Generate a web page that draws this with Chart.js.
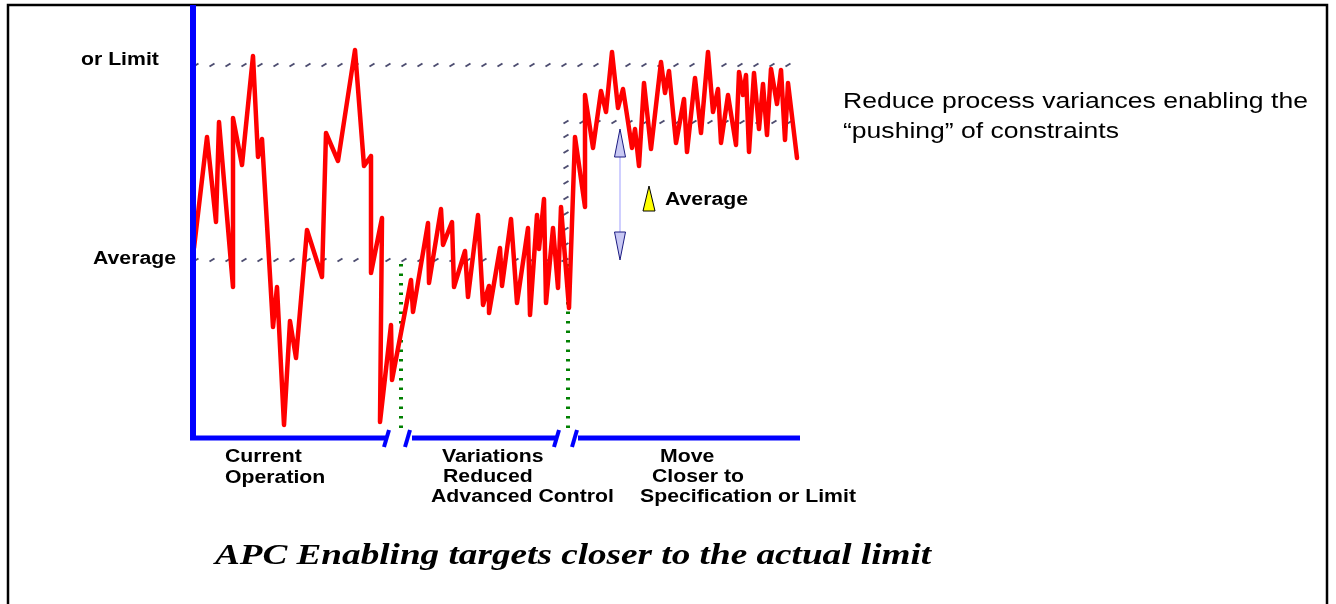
<!DOCTYPE html>
<html>
<head>
<meta charset="utf-8">
<script src="https://cdn.jsdelivr.net/npm/chart.js@4"></script>
<style>
  body { margin: 0; background: #fff; }
  canvas { display: block; }
</style>
</head>
<body>
<canvas id="container" width="1336" height="604"></canvas>
<script>
// process value over time, three phases (x = time step, y = level above the axis)
var currentX = [4, 17, 26, 29, 43, 43, 52, 63, 68, 72, 83, 87, 94, 100, 106, 117, 132, 136, 148, 165, 174, 181, 181, 192, 190];
var currentY = [190, 301, 216, 316, 151, 320, 273, 382, 281, 299, 111, 151, 13, 117, 80, 208, 161, 305, 277, 388, 272, 282, 165, 220, 16];

var reducedX = [201, 202, 221, 223, 238, 239, 251, 253, 262, 264, 275, 278, 288, 293, 299, 299, 310, 312, 321, 323, 327, 338, 340, 347, 349, 354, 356, 363, 368, 371, 379];
var reducedY = [113, 58, 158, 126, 215, 155, 229, 193, 216, 151, 187, 141, 223, 133, 152, 125, 190, 152, 219, 192, 135, 210, 123, 223, 189, 239, 135, 210, 150, 231, 130];

var closerX = [385, 395, 395, 403, 411, 416, 422, 428, 433, 442, 445, 449, 454, 461, 471, 475, 479, 486, 494, 497, 505, 511, 518, 523, 528, 531, 538, 546, 549, 553, 556, 559, 564, 569, 573, 577, 581, 587, 591, 595, 598, 607];
var closerY = [301, 231, 343, 290, 347, 326, 386, 330, 349, 290, 309, 272, 355, 289, 376, 345, 367, 295, 339, 286, 360, 305, 386, 326, 349, 295, 343, 293, 366, 343, 363, 286, 365, 309, 354, 303, 369, 334, 368, 298, 355, 280];

// reference levels
var limitLevel = 373;
var averageLevel = 178;
var newAverageLevel = 316;
var phaseBreaks = [211, 378];

var xs = currentX.concat(reducedX, closerX);
var ys = currentY.concat(reducedY, closerY);
var points = xs.map(function (v, i) { return { x: v, y: ys[i] }; });

var SX = 1.18; // the original picture is stretched sideways

function txt(ctx, s, x, y, font) {
  ctx.save();
  ctx.font = font;
  ctx.textBaseline = 'middle';
  ctx.textAlign = 'left';
  ctx.fillStyle = '#000';
  ctx.translate(x, y);
  ctx.scale(SX, 1);
  ctx.fillText(s, 0, 0);
  ctx.restore();
}

function hatchMark(ctx, px, py) {
  ctx.beginPath();
  ctx.moveTo(px - 2.5, py + 1.5);
  ctx.lineTo(px + 2.5, py - 1.5);
  ctx.stroke();
}

var overlay = {
  id: 'overlay',
  beforeDatasetsDraw: function (chart) {
    var ctx = chart.ctx, x = chart.scales.x, y = chart.scales.y;
    ctx.save();
    // frame
    ctx.strokeStyle = '#000';
    ctx.lineWidth = 2.5;
    ctx.strokeRect(8, 5, 1319, 640);

    // hatched limit / average lines
    ctx.strokeStyle = '#4d4d70';
    ctx.lineWidth = 2;
    var p;
    var yl = y.getPixelForValue(limitLevel);
    for (p = x.getPixelForValue(6); p <= x.getPixelForValue(610); p += 16) hatchMark(ctx, p, yl);
    var ya = y.getPixelForValue(averageLevel);
    var xv = x.getPixelForValue(376);
    for (p = x.getPixelForValue(6); p <= xv; p += 16) hatchMark(ctx, p, ya);
    var yn = y.getPixelForValue(newAverageLevel);
    for (p = ya; p >= yn; p -= 15.5) hatchMark(ctx, xv, p);
    for (p = xv; p <= x.getPixelForValue(610); p += 16) hatchMark(ctx, p, yn);

    // green dotted phase separators
    ctx.strokeStyle = '#008000';
    ctx.lineWidth = 4;
    ctx.setLineDash([2.5, 7]);
    phaseBreaks.forEach(function (v) {
      var px = x.getPixelForValue(v);
      ctx.beginPath();
      ctx.moveTo(px, y.getPixelForValue(averageLevel - 4));
      ctx.lineTo(px, y.getPixelForValue(0) - 3);
      ctx.stroke();
    });
    ctx.restore();
  },
  afterDatasetsDraw: function (chart) {
    var ctx = chart.ctx, x = chart.scales.x, y = chart.scales.y;
    var a = chart.chartArea;
    ctx.save();
    // blue axes
    ctx.strokeStyle = '#0000ff';
    ctx.lineWidth = 6;
    ctx.lineCap = 'butt';
    ctx.beginPath();
    ctx.moveTo(a.left + 3, a.top);
    ctx.lineTo(a.left + 3, a.bottom + 2);
    ctx.stroke();
    ctx.lineWidth = 5;
    var segs = [[0, 197], [222, 368], [388, 610]];
    segs.forEach(function (s) {
      ctx.beginPath();
      ctx.moveTo(x.getPixelForValue(s[0]), a.bottom);
      ctx.lineTo(x.getPixelForValue(s[1]), a.bottom);
      ctx.stroke();
    });
    ctx.lineWidth = 4;
    [196, 217, 366, 384].forEach(function (v) {
      var px = x.getPixelForValue(v);
      ctx.beginPath();
      ctx.moveTo(px - 2, a.bottom + 9);
      ctx.lineTo(px + 3, a.bottom - 8);
      ctx.stroke();
    });

    // double arrow showing the reduced variance
    var ax = x.getPixelForValue(430);
    var t1 = y.getPixelForValue(309), t2 = y.getPixelForValue(281);
    var b1 = y.getPixelForValue(206), b2 = y.getPixelForValue(178);
    ctx.strokeStyle = '#9f9fff';
    ctx.lineWidth = 1;
    ctx.beginPath();
    ctx.moveTo(ax, t2);
    ctx.lineTo(ax, b1);
    ctx.stroke();
    ctx.fillStyle = '#c8c8f4';
    ctx.strokeStyle = '#1a1a80';
    ctx.beginPath();
    ctx.moveTo(ax, t1); ctx.lineTo(ax + 5.5, t2); ctx.lineTo(ax - 5.5, t2); ctx.closePath();
    ctx.fill(); ctx.stroke();
    ctx.beginPath();
    ctx.moveTo(ax, b2); ctx.lineTo(ax + 5.5, b1); ctx.lineTo(ax - 5.5, b1); ctx.closePath();
    ctx.fill(); ctx.stroke();

    // yellow marker
    var yx = x.getPixelForValue(459);
    ctx.fillStyle = '#ffff00';
    ctx.strokeStyle = '#000';
    ctx.beginPath();
    ctx.moveTo(yx, y.getPixelForValue(252));
    ctx.lineTo(yx + 6, y.getPixelForValue(227));
    ctx.lineTo(yx - 6, y.getPixelForValue(227));
    ctx.closePath();
    ctx.fill(); ctx.stroke();
    ctx.restore();

    var B = 'bold 18px "Liberation Sans", Arial, sans-serif';
    var R = '22.5px "Liberation Sans", Arial, sans-serif';
    txt(ctx, 'or Limit', 81, 60, B);
    txt(ctx, 'Average', 93, 259, B);
    txt(ctx, 'Average', 665, 200, B);
    txt(ctx, 'Reduce process variances enabling the', 843, 102, R);
    txt(ctx, '\u201cpushing\u201d of constraints', 843, 132, R);
    txt(ctx, 'Current', 225, 457, B);
    txt(ctx, 'Operation', 225, 478, B);
    txt(ctx, 'Variations', 442, 457, B);
    txt(ctx, 'Reduced', 443, 477, B);
    txt(ctx, 'Advanced Control', 431, 497, B);
    txt(ctx, 'Move', 660, 457, B);
    txt(ctx, 'Closer to', 652, 477, B);
    txt(ctx, 'Specification or Limit', 640, 497, B);

    ctx.save();
    ctx.font = 'italic bold 30px "Liberation Serif", "Times New Roman", serif';
    ctx.textAlign = 'center';
    ctx.textBaseline = 'middle';
    ctx.fillStyle = '#000';
    ctx.translate(573, 556);
    ctx.scale(1.24, 1);
    ctx.fillText('APC Enabling targets closer to the actual limit', 0, 0);
    ctx.restore();
  }
};

new Chart('container', {
  type: 'line',
  data: {
    datasets: [{
      data: points,
      borderColor: '#ff0000',
      borderWidth: 4.5,
      borderJoinStyle: 'round',
      borderCapStyle: 'round',
      pointRadius: 0,
      tension: 0,
      fill: false,
      clip: false
    }]
  },
  options: {
    responsive: false,
    animation: false,
    events: [],
    layout: { padding: { left: 190, right: 536, top: 5, bottom: 166 } },
    plugins: { legend: { display: false }, tooltip: { enabled: false }, title: { display: false } },
    scales: {
      x: { type: 'linear', min: 0, max: 610, display: false },
      y: { min: 0, max: 433, display: false }
    }
  },
  plugins: [overlay]
});
</script>
</body>
</html>
